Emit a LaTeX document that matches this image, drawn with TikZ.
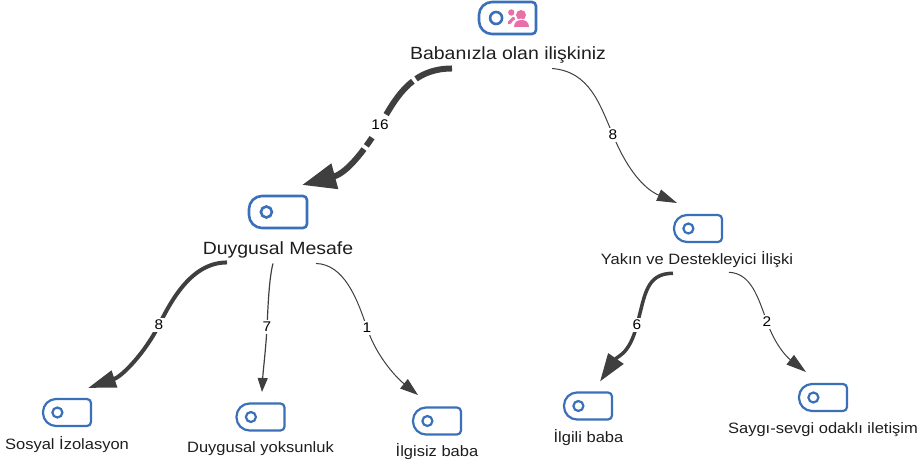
\documentclass[tikz,border=0pt]{standalone}
\usepackage{fontspec}
\setmainfont[FakeStretch=1.1]{Liberation Sans}
\usetikzlibrary{calc,arrows.meta}
\definecolor{edgegray}{HTML}{3F3F3F}
\definecolor{iconblue}{HTML}{3A70B8}
\definecolor{iconpink}{HTML}{E96FA8}
\definecolor{labelink}{HTML}{1E1E1E}
\tikzset{
  iconbox/.style={inner sep=0pt,outer sep=0pt,minimum width=48pt,minimum height=27pt},
  biglabel/.style={inner sep=0pt,text=labelink,font=\fontsize{17.7}{20}\selectfont},
  smalllabel/.style={inner sep=0pt,text=labelink,font=\fontsize{15}{18}\selectfont},
  edgelabel/.style={fill=white,inner sep=2.5pt,text=black,font=\fontsize{14}{16}\selectfont},
  flow/.style={draw=edgegray,line width=#1},
}
\newcommand{\cardicon}[3]{%
  \draw[iconblue,line width=#2]
    ([shift={(-4,0)}]#1.north east) .. controls ([shift={(-1.8,0)}]#1.north east) and ([shift={(0,1.8)}]#1.north east) .. ([shift={(0,4)}]#1.north east)
    -- ([shift={(0,-4)}]#1.south east) .. controls ([shift={(0,-1.8)}]#1.south east) and ([shift={(-1.8,0)}]#1.south east) .. ([shift={(-4,0)}]#1.south east)
    -- ([shift={(13,0)}]#1.south west) .. controls ([shift={(5.9,0)}]#1.south west) and ([shift={(0,-5.9)}]#1.south west) .. ([shift={(0,-13)}]#1.south west)
    -- ([shift={(0,13)}]#1.north west) .. controls ([shift={(0,5.9)}]#1.north west) and ([shift={(5.9,0)}]#1.north west) .. ([shift={(13,0)}]#1.north west)
    -- cycle;
  \draw[iconblue,line width=#2] ($(#1.west)!0.3!(#1.east)$) circle (#3);
}
\begin{document}
\begin{tikzpicture}[x=1pt,y=-1pt]
\useasboundingbox (0,0) rectangle (923,465);
\node[iconbox,minimum width=57pt,minimum height=32pt] (rooticon) at (507.5,18) {};
\node[iconbox,minimum width=58pt,minimum height=32pt] (midicon) at (278,212) {};
\node[iconbox] (soticon) at (67,412.5) {};
\node[iconbox] (yokicon) at (260.5,417) {};
\node[iconbox] (lgsicon) at (437,421) {};
\node[iconbox] (yakicon) at (698,228.5) {};
\node[iconbox] (lglicon) at (588,406) {};
\node[iconbox] (sayicon) at (823,397.5) {};
\cardicon{rooticon}{2.6pt}{6pt}
\cardicon{midicon}{2.6pt}{5.5pt}
\cardicon{soticon}{2.2pt}{5pt}
\cardicon{yokicon}{2.2pt}{5pt}
\cardicon{lgsicon}{2.2pt}{5pt}
\cardicon{yakicon}{2.2pt}{5pt}
\cardicon{lglicon}{2.2pt}{5pt}
\cardicon{sayicon}{2.2pt}{5pt}
% pink people glyph of the root icon
\fill[iconpink] ($(rooticon.center)+(3.8,-5.5)$) circle (3.2pt);
\draw[iconpink,line width=3.4pt,line cap=round] ($(rooticon.center)+(1.8,4.6)$) -- ($(rooticon.center)+(6.5,0)$);
\fill[white] ($(rooticon.center)+(13.5,-3)$) circle (7pt);
\fill[iconpink] ($(rooticon.center)+(13.5,-3)$) circle (5pt);
\fill[white] ($(rooticon.center)+(5,10)$) -- ($(rooticon.center)+(5,3)$) -- ($(rooticon.center)+(14,0.5)$) -- ($(rooticon.center)+(22,10)$) -- cycle;
\fill[iconpink] ($(rooticon.center)+(6.5,9)$) .. controls +(0,-5) and +(-4,0) .. ($(rooticon.center)+(14,2)$)
  .. controls +(4,0) and +(0,-5) .. ($(rooticon.center)+(21.5,9)$) -- cycle;
\node[biglabel] (root) at (508,55) {Babanızla olan ilişkiniz};
\node[biglabel] (mid) at (278,250) {Duygusal Mesafe};
\node[smalllabel] (sot) at (67,445) {Sosyal İzolasyon};
\node[smalllabel] (yok) at (260.5,449) {Duygusal yoksunluk};
\node[smalllabel] (lgs) at (437,452) {İlgisiz baba};
\node[smalllabel] (yak) at (697,260) {Yakın ve Destekleyici İlişki};
\node[smalllabel] (lgl) at (588.5,438) {İlgili baba};
\node[smalllabel] (say) at (823,430) {Saygı-sevgi odaklı iletişim};
% connectors
\draw[flow=6pt,dash pattern=on 38pt off 4pt on 43pt off 27pt on 10pt off 4pt on 60pt,-{Triangle[length=34pt,width=25pt]}]
  ([shift={(-56,5)}]root.south) .. controls +(-42,0) and +(15,-25) .. (380,125)
  .. controls +(-15,25) and +(45,-12) .. ([shift={(24,-11)}]midicon.north);
\draw[flow=1pt,-{Triangle[length=20pt,width=12pt]}]
  ([shift={(44,5)}]root.south) .. controls +(38,3) and +(-13,-30) .. (613,135)
  .. controls +(12,30) and +(-35,-15) .. ([shift={(-21,-12)}]yakicon.north);
\draw[flow=4pt,-{Triangle[length=28pt,width=17pt]}]
  ([shift={(-51,4)}]mid.south) .. controls +(-35,0) and +(13,-26) .. (159,325)
  .. controls +(-13,26) and +(35,-12) .. ([shift={(21,-11)}]soticon.north);
\draw[flow=1.2pt,-{Triangle[length=14pt,width=10pt]}]
  ([shift={(-5,5)}]mid.south) .. controls +(-4,15) and +(1,-20) .. (267,327)
  .. controls +(-1,20) and +(1,-20) .. ([shift={(1.5,-11.5)}]yokicon.north);
\draw[flow=1pt,-{Triangle[length=18pt,width=12pt]}]
  ([shift={(38,5)}]mid.south) .. controls +(28,1) and +(-10,-30) .. (367,328)
  .. controls +(10,30) and +(-20,-16) .. ([shift={(-19,-12.5)}]lgsicon.north);
\draw[flow=3.5pt,-{Triangle[length=28pt,width=18pt]}]
  ([shift={(-24,5)}]yak.south) .. controls +(-27,0) and +(8,-30) .. (637,325)
  .. controls +(-8,30) and +(18,-26) .. ([shift={(12,-11)}]lglicon.north);
\draw[flow=1pt,-{Triangle[length=20pt,width=12pt]}]
  ([shift={(32,4)}]yak.south) .. controls +(22,1) and +(-9,-25) .. (767,322)
  .. controls +(9,25) and +(-18,-14) .. ([shift={(-17,-12)}]sayicon.north);
\node[edgelabel] (e16) at (380,125) {16};
\node[edgelabel] (e8r) at (613,135) {8};
\node[edgelabel] (e8l) at (159,325) {8};
\node[edgelabel] (e7) at (267,327) {7};
\node[edgelabel] (e1) at (367,328) {1};
\node[edgelabel] (e6) at (637,325) {6};
\node[edgelabel] (e2) at (767,322) {2};
\end{tikzpicture}
\end{document}
